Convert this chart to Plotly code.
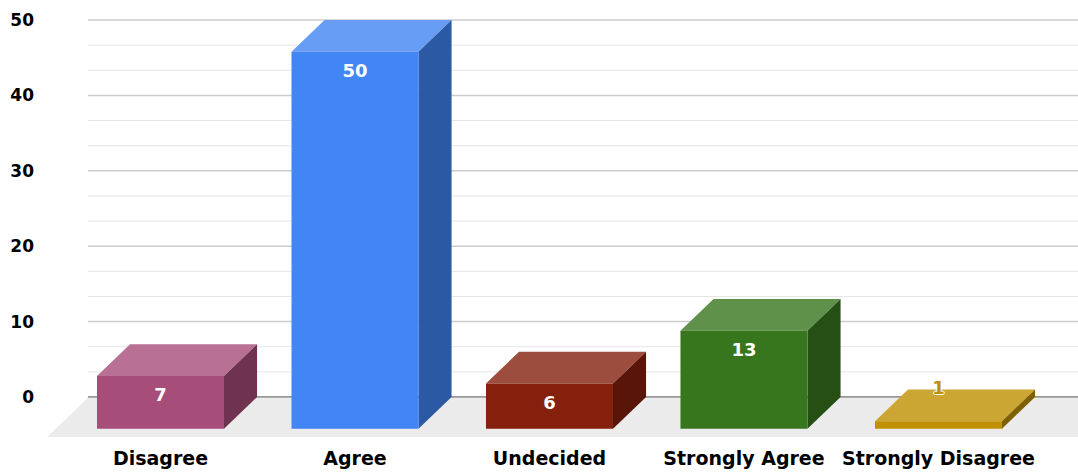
import plotly.graph_objects as go

# data
categories = ["Disagree", "Agree", "Undecided", "Strongly Agree", "Strongly Disagree"]
values = [7, 50, 6, 13, 1]
y_ticks = [0, 10, 20, 30, 40, 50]

# base colours per bar
colors = ["#A64D79", "#4285F4", "#85200C", "#38761D", "#BF9000"]

# 3d geometry (x in category units, y in value units)
hw = 0.3265        # half width of bar front face
ddx, ddy = 0.17, 4.2      # bar depth offset
fdx, fdy = 0.21, 5.305    # floor depth


def shade(hexcol, f, mix_white=0.0):
    r, g, b = (int(hexcol[i:i + 2], 16) for i in (1, 3, 5))
    out = []
    for c in (r, g, b):
        c = c * f + (255 - c * f) * mix_white
        out.append(int(round(min(255, c))))
    return "#%02X%02X%02X" % tuple(out)


def poly(xs, ys, color):
    return go.Scatter(x=xs + [xs[0]], y=ys + [ys[0]], fill="toself", fillcolor=color,
                      mode="lines", line=dict(width=0), hoverinfo="skip", showlegend=False)


fig = go.Figure()

# floor
x_back_left, x_back_right = -0.373, 5.2
fig.add_trace(poly([x_back_left, x_back_right, x_back_right - fdx, x_back_left - fdx],
                   [-0.1, -0.1, -fdy, -fdy], "#EBEBEB"))

# bars
for i, (v, c) in enumerate(zip(values, colors)):
    top = shade(c, 1.0, 0.2)
    side = shade(c, 0.667)
    # top face
    fig.add_trace(poly([i - hw, i + hw, i + hw + ddx, i - hw + ddx],
                       [v - ddy, v - ddy, v, v], top))
    # right side face
    fig.add_trace(poly([i + hw, i + hw + ddx, i + hw + ddx, i + hw],
                       [-ddy, 0, v, v - ddy], side))
    # front face
    fig.add_trace(poly([i - hw, i + hw, i + hw, i - hw],
                       [-ddy, -ddy, v - ddy, v - ddy], c))

# value labels: white inside the front face, bar colour above a flat bar
idx_in = [i for i, v in enumerate(values) if v > 2]
idx_out = [i for i, v in enumerate(values) if v <= 2]
fig.add_trace(go.Scatter(
    x=idx_in, y=[values[i] - ddy - 2.75 for i in idx_in], mode="text",
    text=[str(values[i]) for i in idx_in],
    textfont=dict(family="DejaVu Sans", size=18, color="#FFFFFF", weight="bold"),
    hoverinfo="skip", showlegend=False))
fig.add_trace(go.Scatter(
    x=idx_out, y=[values[i] + 0.05 for i in idx_out], mode="text",
    text=[str(values[i]) for i in idx_out],
    textfont=dict(family="DejaVu Sans", size=18, color=[colors[i] for i in idx_out],
                  weight="bold",
                  shadow="1px 0 0 #fff, -1px 0 0 #fff, 0 1px 0 #fff, 0 -1px 0 #fff"),
    hoverinfo="skip", showlegend=False))

# gridlines on the back wall
shapes = []
for k in range(1, 16):
    yv = k * 10 / 3
    major = k % 3 == 0
    shapes.append(dict(type="line", xref="x", yref="y", x0=x_back_left, x1=5.0,
                       y0=yv, y1=yv, layer="below",
                       line=dict(color="#CCCCCC" if major else "#E6E6E6", width=1.5 if major else 1)))
shapes.append(dict(type="line", xref="x", yref="y", x0=x_back_left, x1=5.0, y0=0, y1=0,
                   layer="below", line=dict(color="#333333", width=1.2)))

fig.update_layout(
    width=1078, height=473,
    margin=dict(l=47, r=0, t=10, b=36),
    plot_bgcolor="white", paper_bgcolor="white",
    shapes=shapes,
    xaxis=dict(range=[-0.5835, 4.7173], tickvals=list(range(len(categories))),
               ticktext=categories, showgrid=False, zeroline=False, showline=False,
               ticks="", ticklabelstandoff=8,
               tickfont=dict(family="DejaVu Sans", size=19, color="#000000", weight="bold")),
    yaxis=dict(range=[-5.305, 51.326], tickvals=y_ticks, showgrid=False, zeroline=False,
               showline=False, ticks="", ticklabelstandoff=12,
               tickfont=dict(family="DejaVu Sans", size=17, color="#000000", weight="bold")),
)

fig.write_html("out.html", config={"displayModeBar": False},
               post_script="document.body.style.margin='0px';")
